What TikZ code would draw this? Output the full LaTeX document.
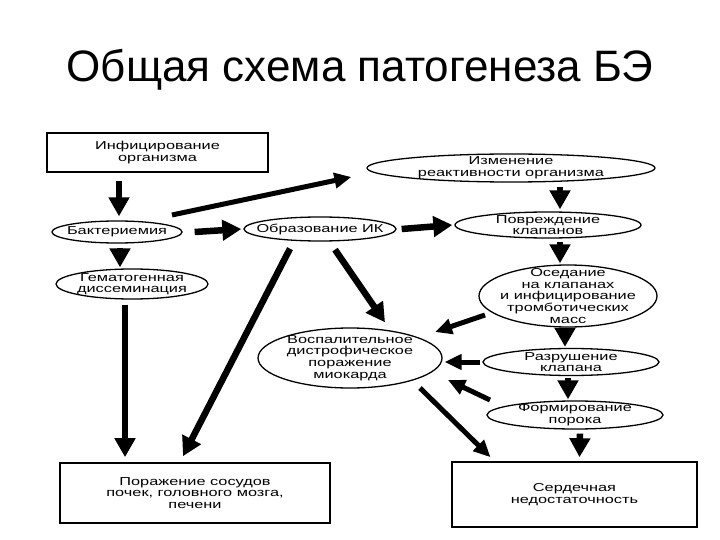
\documentclass[tikz,border=0pt]{standalone}
\usepackage{fontspec}
\setmainfont{Liberation Sans}
\newfontfamily\stfont{Liberation Sans}[FakeStretch=1.42]
\usetikzlibrary{shapes.geometric,arrows.meta,calc}
\begin{document}
\begin{tikzpicture}[x=1pt,y=-1pt,
  txt/.style={align=center,inner sep=0pt,font=\stfont\fontsize{11.5}{11.6}\selectfont},
  ell/.style={ellipse,draw,line width=1.3pt,inner sep=0pt},
  box/.style={rectangle,draw,line width=1.6pt,inner sep=0pt},
  arr/.style={line width=6.5pt,-{Triangle[length=19pt,width=20pt]}},
  arrs/.style={line width=5pt,-{Triangle[length=17pt,width=15pt]}}]
\useasboundingbox[fill=white] (0,0) rectangle (720,540);
\node[font=\fontsize{44}{44}\selectfont,inner sep=0pt] (title) at (360,70) {Общая схема патогенеза БЭ};

\node[box,minimum width=221pt,minimum height=39pt] (inf) at (157.5,152.5) {};
\node[txt] at (inf) {Инфицирование\\организма};
\node[ell,minimum width=130pt,minimum height=22pt] (bact) at (117,232) {};
\node[txt] at (bact) {Бактериемия};
\node[ell,minimum width=152pt,minimum height=30pt] (gem) at (132,284) {};
\node[txt] at (gem) {Гематогенная\\диссеминация};
\node[ell,minimum width=152pt,minimum height=24pt] (obr) at (320,229) {};
\node[txt] at (obr) {Образование ИК};
\node[ell,minimum width=288pt,minimum height=28pt] (izm) at (511,168) {};
\node[txt] at (izm) {Изменение\\реактивности организма};
\node[ell,minimum width=186pt,minimum height=26pt] (povr) at (548,225) {};
\node[txt] at (povr) {Повреждение\\клапанов};
\node[ell,minimum width=178pt,minimum height=62pt] (osed) at (568,296) {};
\node[txt] at (osed) {Оседание\\на клапанах\\и инфицирование\\тромботических\\масс};
\node[ell,minimum width=184pt,minimum height=60pt] (vosp) at (350,358) {};
\node[txt] at (vosp) {Воспалительное\\дистрофическое\\поражение\\миокарда};
\node[ell,minimum width=176pt,minimum height=27pt] (razr) at (571,362) {};
\node[txt] at (razr) {Разрушение\\клапана};
\node[ell,minimum width=176pt,minimum height=28pt] (form) at (575,415) {};
\node[txt] at (form) {Формирование\\порока};
\node[box,minimum width=270pt,minimum height=60pt] (por) at (195,493) {};
\node[txt] at (por) {Поражение сосудов\\почек, головного мозга,\\печени};
\node[box,minimum width=245pt,minimum height=65pt] (serd) at (574.5,494.5) {};
\node[txt] at (serd) {Сердечная\\недостаточность};

% arrows
\draw[arr] ($(inf.south -| bact.north)+(2,8)$) -- ($(bact.north)+(2,-4)$);
\draw[arrs] ($(bact)+(55,-17)$) -- ($(izm.west)+(-15,9)$);
\draw[arr] ($(bact.east)+(12,0)$) -- ($(obr.west)+(-2,0)$);
\draw[arr] ($(obr.east)+(5,0)$) -- ($(povr.west)+(-2,0)$);
\draw[arr] ($(izm.south -| povr.north)+(12,4)$) -- ($(povr.north)+(12,-2)$);
\draw[arr] ($(povr.south -| osed.north)+(-8,3)$) -- ($(osed.north)+(-8,-1)$);
\draw[arr] ($(bact.south)+(3,4)$) -- ($(gem.north -| bact.south)+(3,-1)$);
\draw[arr] ($(obr.south)+(15,8)$) -- ($(vosp.north)+(35,-5)$);
\draw[arr] ($(obr.south)+(-30,7)$) -- ($(por.north)+(-12,-6)$);
\draw[arr] ($(gem.south)+(-7,5)$) -- ($(por.north -| gem.south)+(-7,-5)$);
\draw[arrs] ($(osed)+(-83,19)$) -- ($(vosp)+(85,-26)$);
\draw[arrs] ($(razr.west)+(-2,0)$) -- ($(vosp.east)+(2,4)$);
\draw[arrs] ($(form)+(-85,-15)$) -- ($(vosp)+(98,22)$);
\draw[arrs] ($(vosp)+(70,30)$) -- ($(serd.north)+(-84,-4)$);
\draw[arr] ($(osed.south)+(-3,1)$) -- ($(razr.north)+(-6,-1)$);
\draw[arr] ($(razr.south)+(-3,2)$) -- ($(form.north)+(-7,-1)$);
\draw[arr] ($(form.south)+(5,4)$) -- ($(serd.north)+(5,-4)$);
\end{tikzpicture}
\end{document}
